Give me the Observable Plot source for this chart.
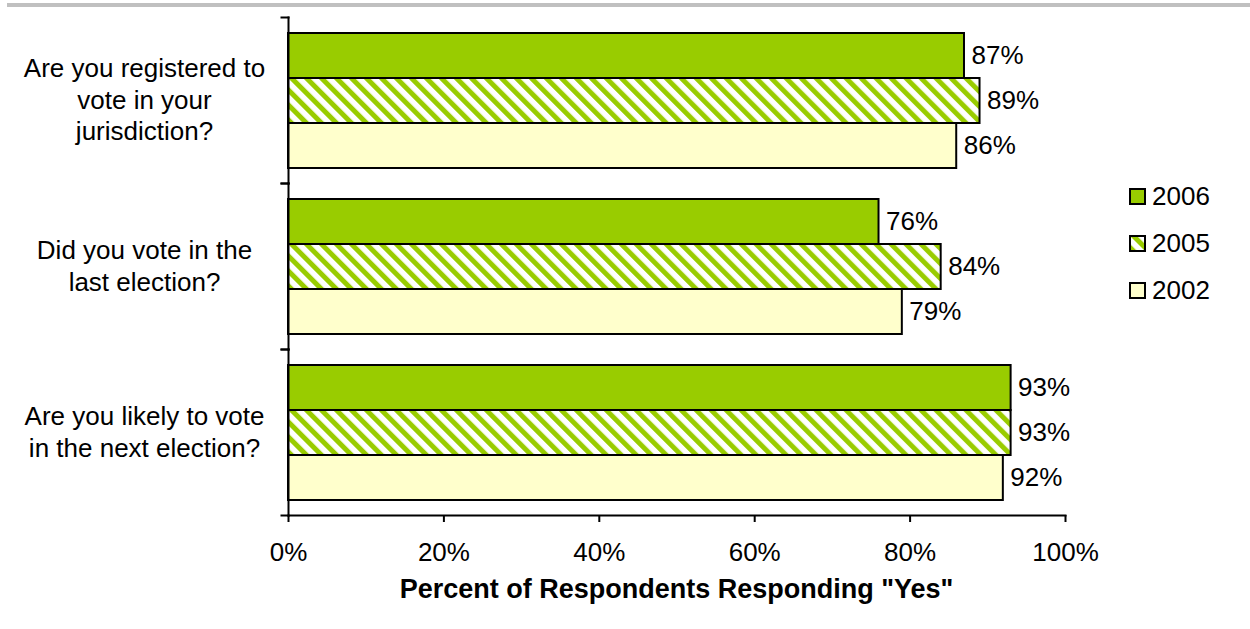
<!DOCTYPE html>
<html>
<head>
<meta charset="utf-8">
<script src="https://cdn.jsdelivr.net/npm/d3@7"></script>
<script src="https://cdn.jsdelivr.net/npm/@observablehq/plot@0.6"></script>
<style>
  body { margin: 0; background: #fff; font-family: "Liberation Sans", Arial, sans-serif; color: #000; }
  #wrap { position: relative; width: 1250px; height: 629px; overflow: hidden; }
  #topline { position: absolute; left: 7px; top: 3px; width: 1243px; height: 4px; background: #c0c0c0; }
  #xtitle { position: absolute; left: 288px; width: 777px; top: 576px; text-align: center; font-weight: bold; font-size: 27px; line-height: 27px; }
  #legend { position: absolute; left: 1129px; top: 173px; font-size: 26px; }
  .item { display: flex; align-items: center; height: 47px; }
  .sw { width: 13px; height: 13px; border: 2px solid #000; margin-right: 6px; }
  #defs { position: absolute; width: 0; height: 0; }
</style>
</head>
<body>
<svg id="defs" width="0" height="0">
  <defs>
    <pattern id="hatch" patternUnits="userSpaceOnUse" width="10.6" height="10.6" patternTransform="rotate(-45)">
      <rect width="10.6" height="10.6" fill="#ffffff"></rect>
      <rect width="5" height="10.6" fill="#99cc00"></rect>
    </pattern>
  </defs>
</svg>
<div id="wrap">
  <div id="topline"></div>
  <div id="chart"></div>
  <div id="legend"></div>
  <div id="xtitle"></div>
</div>
<script>
// ---- data ----
const questions = ["registered", "voted", "likely"];
const questionLabels = [
  "Are you registered to\nvote in your\njurisdiction?",
  "Did you vote in the\nlast election?",
  "Are you likely to vote\nin the next election?"
];
const years = ["2006", "2005", "2002"];
const values2006 = [87, 76, 93];
const values2005 = [89, 84, 93];
const values2002 = [86, 79, 92];
const xTicks = [0, 20, 40, 60, 80, 100];
const xTitle = 'Percent of Respondents Responding "Yes"';

// ---- styles ----
const fills = { "2006": "#99cc00", "2005": "url(#hatch)", "2002": "#ffffcc" };

const seriesByYear = { "2006": values2006, "2005": values2005, "2002": values2002 };
const data = questions.flatMap((q, i) => years.map(y => ({ q, year: y, value: seriesByYear[y][i] })));

const plot = Plot.plot({
  width: 1250,
  height: 629,
  marginLeft: 288,
  marginRight: 185,
  marginTop: 17,
  marginBottom: 114,
  style: { fontFamily: "Liberation Sans, Arial, sans-serif", color: "#000", background: "transparent" },
  x: { domain: [0, 100], axis: null },
  y: { domain: years, paddingInner: 0, paddingOuter: 0.331, axis: null },
  fy: { domain: questions, padding: 0, axis: null },
  marks: [
    ...years.map(y => Plot.barX(data.filter(d => d.year === y), {
      fy: "q", y: "year", x: "value", fill: fills[y], stroke: "#000", strokeWidth: 2
    })),
    Plot.text(data, {
      fy: "q", y: "year", x: "value", text: d => d.value + "%",
      textAnchor: "start", dx: 7, fontSize: 26, fill: "#000"
    }),
    Plot.text(questions, {
      fy: d => d, text: (d, i) => questionLabels[i], frameAnchor: "left", dx: -144, dy: -2,
      textAnchor: "middle", lineAnchor: "middle", lineHeight: 1.22, fontSize: 26, fill: "#000"
    }),
    Plot.frame({ anchor: "left", stroke: "#000", strokeWidth: 2 }),
    Plot.frame({ anchor: "top", insetLeft: -7, insetRight: 777, stroke: "#000", strokeWidth: 2 }),
    Plot.frame({ anchor: "bottom", insetLeft: -7, insetRight: 777, stroke: "#000", strokeWidth: 2 }),
    Plot.frame({ anchor: "bottom", facetAnchor: "bottom", stroke: "#000", strokeWidth: 2 }),
    Plot.axisX({ ticks: xTicks, tickFormat: d => d + "%", tickSize: 7, tickPadding: 20, fontSize: 26, strokeWidth: 2, label: null, fill: "#000" })
  ]
});
document.getElementById("chart").appendChild(plot);

// legend
const legend = d3.select("#legend");
years.forEach(y => {
  const it = legend.append("div").attr("class", "item");
  it.append("div").attr("class", "sw").style("background", fills[y] === "url(#hatch)" ? null : fills[y])
    .call(s => { if (fills[y] === "url(#hatch)") { s.append("svg").attr("width", 13).attr("height", 13).style("display","block").append("rect").attr("width", 13).attr("height", 13).attr("fill", "url(#hatch)"); } });
  it.append("span").text(y);
});
document.getElementById("xtitle").textContent = xTitle;
</script>
</body>
</html>
